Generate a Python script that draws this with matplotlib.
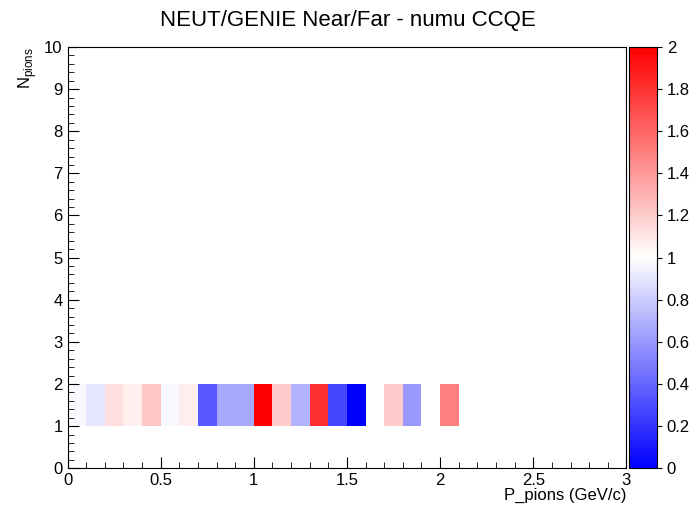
import numpy as np
import matplotlib
matplotlib.use("Agg")
import matplotlib.pyplot as plt
from matplotlib.colors import LinearSegmentedColormap
from matplotlib.ticker import MultipleLocator, FuncFormatter

plt.rcParams['font.family'] = ['Liberation Sans', 'DejaVu Sans']

x_edges = np.round(np.arange(0, 3.01, 0.1), 2)
y_edges = np.arange(0, 11, 1)
# ratio values for N_pions bin 1-2, P bins 0.0-0.1 ... 2.0-2.1 (nan = empty)
ratios = [0.97, 0.90, 1.13, 1.06, 1.22, 0.97, 1.07, 0.35, 0.66, 0.66,
          2.0, 1.2, 0.70, 1.81, 0.28, 0.0, np.nan, 1.2, 0.6, np.nan, 1.5]

Z = np.full((len(y_edges) - 1, len(x_edges) - 1), np.nan)
Z[1, :len(ratios)] = ratios
Z = np.ma.masked_invalid(Z)

fmt = FuncFormatter(lambda v, p: f"{v:g}")
cmap = LinearSegmentedColormap.from_list("bwr2", ["#0000ff", "#ffffff", "#ff0000"])
fig = plt.figure(figsize=(6.96, 5.22), dpi=100)
ax = fig.add_axes([0.097, 0.103, 0.803, 0.807])
cax = fig.add_axes([0.904, 0.103, 0.04, 0.807])
m = ax.pcolormesh(x_edges, y_edges, Z, cmap=cmap, vmin=0, vmax=2)
ax.set_xlim(0, 3); ax.set_ylim(0, 10)
ax.xaxis.set_major_locator(MultipleLocator(0.5)); ax.xaxis.set_minor_locator(MultipleLocator(0.1))
ax.yaxis.set_major_locator(MultipleLocator(1)); ax.yaxis.set_minor_locator(MultipleLocator(0.2))
ax.xaxis.set_major_formatter(fmt)
ax.tick_params(which="both", direction="in", top=False, right=False, labelsize=12)
ax.tick_params(which="major", length=8); ax.tick_params(which="minor", length=4)
ax.set_xlabel("P_pions (GeV/c)", fontsize=12, loc="right", labelpad=0)
ax.set_ylabel(r"N$_{\mathregular{pions}}$", fontsize=12, loc="top")
cb = fig.colorbar(m, cax=cax, ticks=np.arange(0, 2.01, 0.2))
cb.ax.tick_params(labelsize=12, direction="out")
cb.ax.yaxis.set_major_formatter(fmt)
fig.suptitle("NEUT/GENIE Near/Far - numu CCQE", fontsize=16, y=0.98)
fig.savefig("out.png", dpi=100)
